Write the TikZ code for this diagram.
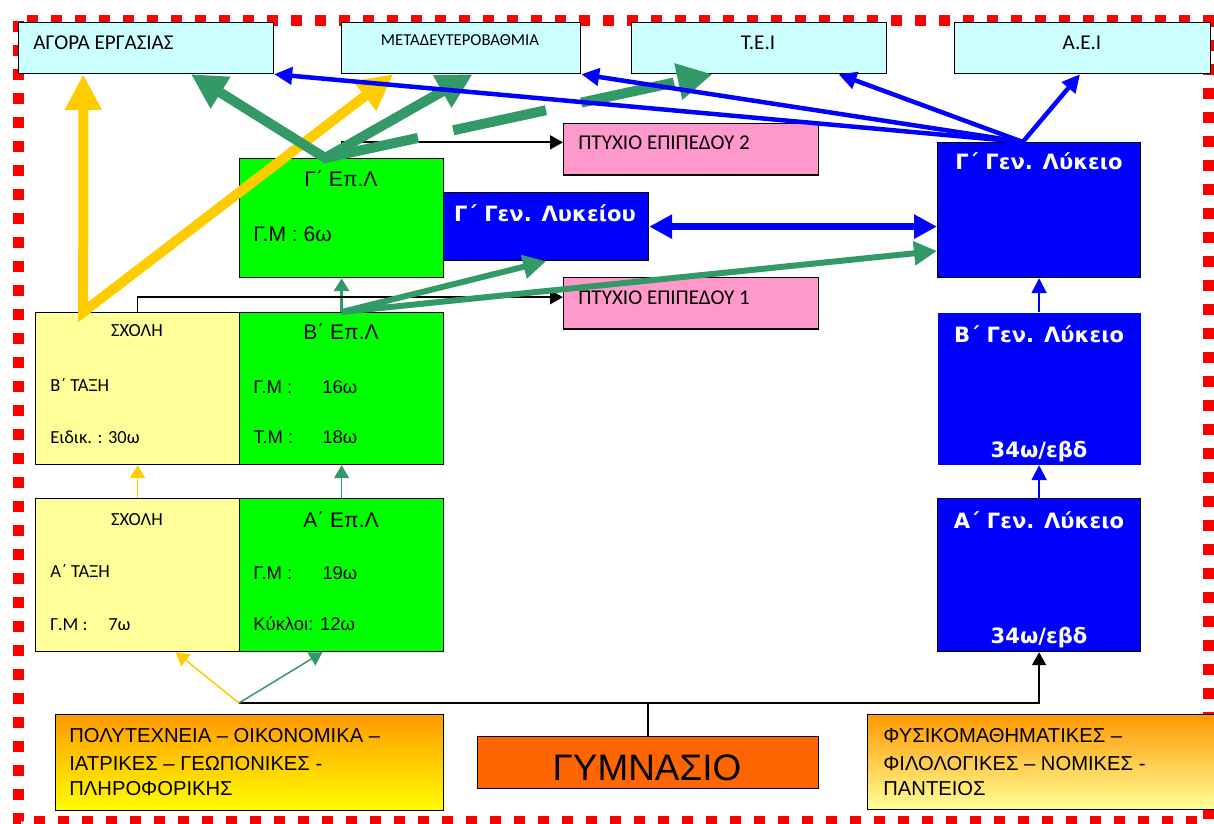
\documentclass[tikz,border=0pt]{standalone}
\usepackage{fontspec}
\setmainfont{Liberation Sans}
\newfontfamily\calib{Carlito}
\newfontfamily\verd{DejaVu Sans}
\usetikzlibrary{calc,arrows.meta}
\definecolor{skyc}{HTML}{CCFFFF}
\definecolor{pinkc}{HTML}{FF99CC}
\definecolor{limec}{HTML}{00FF00}
\definecolor{creamc}{HTML}{FFFF99}
\definecolor{bluec}{HTML}{0000FF}
\definecolor{gymc}{HTML}{FF6600}
\definecolor{seac}{HTML}{339966}
\definecolor{goldc}{HTML}{FFCC00}
\definecolor{orangec}{HTML}{FF9900}
\definecolor{yelc}{HTML}{FFFF00}
\newcommand\fcal[1]{\calib\fontsize{#1}{#1}\selectfont}
\newcommand\fari[1]{\fontsize{#1}{#1}\selectfont}
\newcommand\fbold{\verd\bfseries\fontsize{12}{12}\selectfont}

\begin{document}
\begin{tikzpicture}[x=0.02cm,y=-0.02cm,
  box/.style={draw,line width=0.7pt,anchor=north west,inner sep=0pt},
  skybox/.style={box,fill=skyc,minimum height=1.02cm},
  pinkbox/.style={box,fill=pinkc,minimum width=5.1cm,minimum height=1.03cm},
  limebox/.style={box,fill=limec,minimum width=4.08cm},
  creambox/.style={box,fill=creamc,minimum width=4.08cm},
  bluebox/.style={box,fill=bluec,minimum width=4.06cm},
  txt/.style={anchor=base west,inner sep=0pt},
  ctxt/.style={anchor=base,inner sep=0pt},
  wtxt/.style={ctxt,text=white,font=\fbold},
  blk/.style={line width=0.035cm,arrows={-Triangle[length=0.26cm,width=0.28cm]}},
  ythin/.style={draw=goldc,line width=0.03cm,arrows={-Triangle[length=0.26cm,width=0.3cm]}},
  gthin/.style={draw=seac,line width=0.03cm,arrows={-Triangle[length=0.26cm,width=0.3cm]}},
  bthin/.style={draw=bluec,line width=0.04cm,arrows={-Triangle[length=0.3cm,width=0.3cm]}},
  yfat/.style={draw=goldc,line width=0.2cm,line join=miter,
    arrows={Triangle[length=0.72cm,width=0.7cm]-Triangle[length=0.72cm,width=0.7cm]}},
  gfat/.style={draw=seac,line width=0.2cm,line join=miter,
    arrows={Triangle[length=0.7cm,width=0.7cm]-Triangle[length=0.7cm,width=0.7cm]}},
  gdash/.style={draw=seac,line width=0.2cm,dash pattern=on 1.9cm off 0.72cm,
    arrows={-Triangle[length=0.7cm,width=0.7cm]}},
  gmid/.style={draw=seac,line width=0.12cm,line join=miter,
    arrows={Triangle[length=0.46cm,width=0.46cm]-Triangle[length=0.46cm,width=0.46cm]}},
  bfat/.style={draw=bluec,line width=0.14cm,
    arrows={Triangle[length=0.46cm,width=0.46cm]-Triangle[length=0.46cm,width=0.46cm]}},
  blong/.style={draw=bluec,line width=0.09cm,arrows={-Triangle[length=0.36cm,width=0.34cm]}}
]
\useasboundingbox (0,0) rectangle (1214,824);
% frame
\draw[red,line width=0.22cm,dash pattern=on 0.22cm off 0.26cm] (18.5,21) rectangle (1208,821);

% top row
\node[skybox,minimum width=5.1cm] (agora) at (18,22) {};
\node[skybox,minimum width=4.78cm] (meta) at (341,22) {};
\node[skybox,minimum width=5.1cm] (tei) at (631,22) {};
\node[skybox,minimum width=5.12cm] (aei) at (954,22) {};
\node[txt,font=\fcal{12}] (agora-t) at (33,50) {ΑΓΟΡΑ ΕΡΓΑΣΙΑΣ};
\node[ctxt,font=\fcal{9.5}] (meta-t) at (460,46) {ΜΕΤΑΔΕΥΤΕΡΟΒΑΘΜΙΑ};
\node[ctxt,font=\fcal{12}] (tei-t) at (758,50) {Τ.Ε.Ι};
\node[ctxt,font=\fcal{12}] (aei-t) at (1082,50) {Α.Ε.Ι};

% degrees
\node[pinkbox] (ptyx2) at (563,123) {};
\node[pinkbox] (ptyx1) at (563,277) {};
\node[txt,font=\fcal{12}] (ptyx2-t) at (578,150) {ΠΤΥΧΙΟ ΕΠΙΠΕΔΟΥ 2};
\node[txt,font=\fcal{12}] (ptyx1-t) at (578,305) {ΠΤΥΧΙΟ ΕΠΙΠΕΔΟΥ 1};

% EPAL
\node[limebox,minimum height=2.38cm] (gepl) at (239,158) {};
\node[limebox,minimum height=3.04cm] (bepl) at (239,312) {};
\node[limebox,minimum height=3.06cm] (aepl) at (239,498) {};
\node[ctxt,font=\fari{12}] (gepl-t) at (341,187) {Γ΄ Επ.Λ};
\node[txt,font=\fari{12}] (gepl-r) at (253,242) {Γ.Μ : 6ω};
\node[ctxt,font=\fari{12}] (bepl-t) at (341,339) {Β΄ Επ.Λ};
\node[txt,font=\fari{10.5}] (bepl-r1) at (253,393) {\makebox[1.38cm][l]{Γ.Μ :}16ω};
\node[txt,font=\fari{10.5}] (bepl-r2) at (253,443) {\makebox[1.38cm][l]{Τ.Μ :}18ω};
\node[ctxt,font=\fari{12}] (aepl-t) at (341,527) {Α΄ Επ.Λ};
\node[txt,font=\fari{10.5}] (aepl-r1) at (253,579) {\makebox[1.38cm][l]{Γ.Μ :}19ω};
\node[txt,font=\fari{10.5}] (aepl-r2) at (253,630) {Κύκλοι: 12ω};

% schools
\node[creambox,minimum height=3.04cm] (bsch) at (35,312) {};
\node[creambox,minimum height=3.06cm] (asch) at (35,498) {};
\node[ctxt,font=\fcal{10.5}] (bsch-t) at (137,337) {ΣΧΟΛΗ};
\node[txt,font=\fcal{10.5}] (bsch-r1) at (50,391) {Β΄ ΤΑΞΗ};
\node[txt,font=\fcal{10.5}] (bsch-r2) at (50,443) {Ειδικ. : 30ω};
\node[ctxt,font=\fcal{10.5}] (asch-t) at (137,525) {ΣΧΟΛΗ};
\node[txt,font=\fcal{10.5}] (asch-r1) at (50,577) {Α΄ ΤΑΞΗ};
\node[txt,font=\fcal{10.5}] (asch-r2) at (50,630) {\makebox[1.16cm][l]{Γ.Μ :}7ω};

% lykeio
\node[bluebox,minimum width=4.1cm,minimum height=1.36cm] (glyke) at (443,192) {};
\node[bluebox,minimum height=2.7cm] (gly) at (937,142) {};
\node[bluebox,draw=none,minimum height=3.04cm] (bly) at (937,312) {};
\node[bluebox,minimum height=3.06cm] (aly) at (937,498) {};
\node[wtxt] (glyke-t) at (545,222) {Γ΄ Γεν. Λυκείου};
\node[wtxt] (gly-t) at (1039,170) {Γ΄ Γεν. Λύκειο};
\node[wtxt] (bly-t) at (1039,342) {Β΄ Γεν. Λύκειο};
\node[wtxt] (bly-h) at (1039,457) {34ω/εβδ};
\node[wtxt] (aly-t) at (1039,528) {Α΄ Γεν. Λύκειο};
\node[wtxt] (aly-h) at (1039,643) {34ω/εβδ};

% bottom
\node[box,top color=orangec,bottom color=yelc,minimum width=7.76cm,minimum height=1.92cm] (poly) at (55,714) {};
\node[box,fill=gymc,minimum width=6.82cm,minimum height=1.04cm] (gym) at (477,736) {};
\node[box,top color=orangec,bottom color=creamc,minimum width=7.2cm,minimum height=1.9cm] (fys) at (867,714) {};
\node[txt,font=\fari{11.5}] (poly-1) at (69,742) {ΠΟΛΥΤΕΧΝΕΙΑ – ΟΙΚΟΝΟΜΙΚΑ –};
\node[txt,font=\fari{11.5}] (poly-2) at (69,770) {ΙΑΤΡΙΚΕΣ – ΓΕΩΠΟΝΙΚΕΣ -};
\node[txt,font=\fari{11.5}] (poly-3) at (69,795) {ΠΛΗΡΟΦΟΡΙΚΗΣ};
\node[ctxt,font=\fari{21}] (gym-t) at (647,780) {ΓΥΜΝΑΣΙΟ};
\node[txt,font=\fari{11.5}] (fys-1) at (883,742) {ΦΥΣΙΚΟΜΑΘΗΜΑΤΙΚΕΣ –};
\node[txt,font=\fari{11.5}] (fys-2) at (883,770) {ΦΙΛΟΛΟΓΙΚΕΣ – ΝΟΜΙΚΕΣ -};
\node[txt,font=\fari{11.5}] (fys-3) at (883,795) {ΠΑΝΤΕΙΟΣ};

% thin links
\coordinate (split) at (239,703);
\draw[line width=0.035cm] (gym.north) -- (gym.north |- split);
\draw[blk] (split) -| (aly.south);
\draw[ythin] (split) -- ($(asch.south west)!0.686!(asch.south east)$);
\draw[gthin] (split) -- ($(aepl.south west)!0.407!(aepl.south east)$);
\draw[ythin] (asch.north) -- (bsch.south);
\draw[gthin] (aepl.north) -- (bepl.south);
\draw[gthin,line width=0.06cm] (bepl.north) -- (gepl.south);
\draw[bthin] (aly.north) -- (bly.south);
\draw[bthin] (bly.north) -- (gly.south);
\draw[blk] (bsch.north) |- ([yshift=3.5pt]ptyx1.west);
\draw[blk] (gepl.north) |- ([yshift=4pt]ptyx2.west);

% thick links
\coordinate (yv) at ($(bsch.north west)!0.235!(bsch.north east)$);
\draw[yfat] ($(agora.south west)!0.255!(agora.south east)$) -- (yv)
  -- ($(meta.south west)!0.218!(meta.south east)$);
\coordinate (gv) at ($(gepl.north west)!0.42!(gepl.north east)$);
\draw[gfat] ($(agora.south west)!0.675!(agora.south east)$) -- (gv)
  -- ($(meta.south west)!0.548!(meta.south east)$);
\draw[gdash] (gv) -- ($(tei.south west)!0.318!(tei.south east)$);
\draw[gmid] (glyke.south) -- (bepl.north)
  -- ($(gly.north west)!0.8!(gly.south west)$);

\coordinate (gtop) at ($(gly.north west)!0.42!(gly.north east)$);
\draw[blong] (gtop) -- (agora.south east);
\draw[blong] (gtop) -- (meta.south east);
\draw[blong] (gtop) -- ($(tei.south west)!0.81!(tei.south east)$);
\draw[blong] (gtop) -- ($(aei.south west)!0.49!(aei.south east)$);
\draw[bfat] (glyke.east) -- (glyke.east -| gly.west);
\end{tikzpicture}
\end{document}
